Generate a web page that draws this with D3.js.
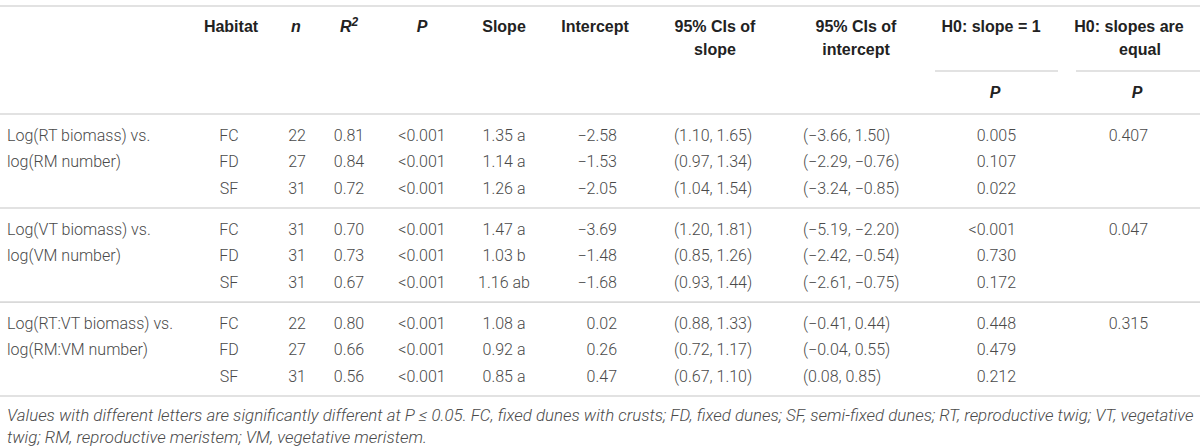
<!DOCTYPE html>
<html><head><meta charset="utf-8">
<script src="https://cdn.jsdelivr.net/npm/d3@7"></script>
<style>
html,body{margin:0;padding:0;background:#fff;}
svg{display:block;}
</style></head>
<body>
<svg id="t" width="1200" height="447"></svg>
<script>
// ---- data ----
const groupLabels = [
  ["Log(RT biomass) vs.", "log(RM number)"],
  ["Log(VT biomass) vs.", "log(VM number)"],
  ["Log(RT:VT biomass) vs.", "log(RM:VM number)"]
];
const habitats = ["FC","FD","SF","FC","FD","SF","FC","FD","SF"];
const nValues = ["22","27","31","31","31","31","22","27","31"];
const r2Values = ["0.81","0.84","0.72","0.70","0.73","0.67","0.80","0.66","0.56"];
const pValues = ["<0.001","<0.001","<0.001","<0.001","<0.001","<0.001","<0.001","<0.001","<0.001"];
const slopeValues = ["1.35 a","1.14 a","1.26 a","1.47 a","1.03 b","1.16 ab","1.08 a","0.92 a","0.85 a"];
const interceptValues = ["\u22122.58","\u22121.53","\u22122.05","\u22123.69","\u22121.48","\u22121.68","0.02","0.26","0.47"];
const ciSlope = ["(1.10, 1.65)","(0.97, 1.34)","(1.04, 1.54)","(1.20, 1.81)","(0.85, 1.26)","(0.93, 1.44)","(0.88, 1.33)","(0.72, 1.17)","(0.67, 1.10)"];
const ciIntercept = ["(\u22123.66, 1.50)","(\u22122.29, \u22120.76)","(\u22123.24, \u22120.85)","(\u22125.19, \u22122.20)","(\u22122.42, \u22120.54)","(\u22122.61, \u22120.75)","(\u22120.41, 0.44)","(\u22120.04, 0.55)","(0.08, 0.85)"];
const pSlopeOne = ["0.005","0.107","0.022","<0.001","0.730","0.172","0.448","0.479","0.212"];
const pSlopesEqual = ["0.407","","","0.047","","","0.315","",""];
const footnote = [
  "Values with different letters are significantly different at P \u2264 0.05. FC, fixed dunes with crusts; FD, fixed dunes; SF, semi-fixed dunes; RT, reproductive twig; VT, vegetative",
  "twig; RM, reproductive meristem; VM, vegetative meristem."
];

// ---- layout ----
const svg = d3.select("#t");
const FONT = "Roboto, 'Liberation Sans', Arial, sans-serif";
const HFONT = "'Liberation Sans', Arial, Helvetica, sans-serif";
const bodyColor = "#4a4a4a", headColor = "#222", lineColor = "#d9d9d9";

const cols = [
  {key:"hab", vals:habitats, x:229, anchor:"middle"},
  {key:"n", vals:nValues, x:297, anchor:"middle"},
  {key:"r2", vals:r2Values, x:349, anchor:"middle"},
  {key:"p", vals:pValues, x:422, anchor:"middle"},
  {key:"slope", vals:slopeValues, x:504, anchor:"middle"},
  {key:"int", vals:interceptValues, x:617, anchor:"end"},
  {key:"cis", vals:ciSlope, x:674, anchor:"start"},
  {key:"cii", vals:ciIntercept, x:803, anchor:"start"},
  {key:"p1", vals:pSlopeOne, x:1016, anchor:"end"},
  {key:"pe", vals:pSlopesEqual, x:1148, anchor:"end"}
];

// row position scale (rows + group gaps)
const rowY = d3.scaleLinear().domain([0,1]).range([135,161.5]);
const rowPos = i => rowY(i + Math.floor(i/3)*0.55);
const BASE = 5.6; // baseline offset from visual center

function hline(y,x1,x2){
  svg.append("line").attr("x1",x1).attr("x2",x2).attr("y1",y).attr("y2",y)
    .attr("stroke",lineColor).attr("stroke-width",1.6);
}
hline(6,0,1200);
hline(114,0,1200);
hline(71,935,1058);
hline(71,1076,1200);
[2,5].forEach(i=>hline((rowPos(i)+rowPos(i+1))/2 - 0.5, 0, 1200));
hline(396,0,1200);

// header
const head = svg.append("g").attr("font-family",HFONT).attr("font-weight",700)
  .attr("font-size",16).attr("fill",headColor);
const headers = [
  {t:"Habitat", x:231, y:26},
  {t:"n", x:296, y:26, it:true},
  {t:"P", x:422, y:26, it:true},
  {t:"Slope", x:504, y:26},
  {t:"Intercept", x:595, y:26},
  {t:"95% CIs of", x:715, y:26},
  {t:"slope", x:715, y:49},
  {t:"95% CIs of", x:856, y:26},
  {t:"intercept", x:856, y:49},
  {t:"H0: slope = 1", x:991, y:26},
  {t:"H0: slopes are", x:1129, y:26},
  {t:"equal", x:1140, y:49},
  {t:"P", x:995, y:92, it:true},
  {t:"P", x:1137, y:92, it:true}
];
head.selectAll("text.h").data(headers).join("text").attr("class","h")
  .attr("x",d=>d.x).attr("y",d=>d.y+BASE).attr("text-anchor","middle")
  .attr("font-style",d=>d.it?"italic":"normal").text(d=>d.t);
const r2h = head.append("text").attr("x",349).attr("y",26+BASE).attr("text-anchor","middle").attr("font-style","italic");
r2h.append("tspan").text("R");
r2h.append("tspan").attr("font-size",12).attr("dy",-6).text("2");

// body
const body = svg.append("g").attr("font-family",FONT).attr("font-weight",300)
  .attr("font-size",16).attr("fill",bodyColor);
const labelRows = [];
groupLabels.forEach((g,gi)=>g.forEach((t,li)=>labelRows.push({t, row:gi*3+li})));
body.selectAll("text.lab").data(labelRows).join("text").attr("class","lab")
  .attr("x",7).attr("y",d=>rowPos(d.row)+BASE).text(d=>d.t);

cols.forEach(c=>{
  body.selectAll("text."+c.key).data(c.vals).join("text").attr("class",c.key)
    .attr("x",c.x).attr("y",(d,i)=>rowPos(i)+BASE).attr("text-anchor",c.anchor).text(d=>d);
});

// footnote
const fn = svg.append("g").attr("font-family",FONT).attr("font-weight",300)
  .attr("font-style","italic").attr("fill",bodyColor);
const fy = [416,438];
const f1 = fn.append("text").attr("x",7).attr("y",fy[0]+5).attr("font-size",15).text(footnote[0]);
const len = f1.node().getComputedTextLength();
const fs = 15*1188/len;
f1.attr("font-size",fs);
fn.append("text").attr("x",7).attr("y",fy[1]+5).attr("font-size",fs).text(footnote[1]);
</script>
</body></html>
